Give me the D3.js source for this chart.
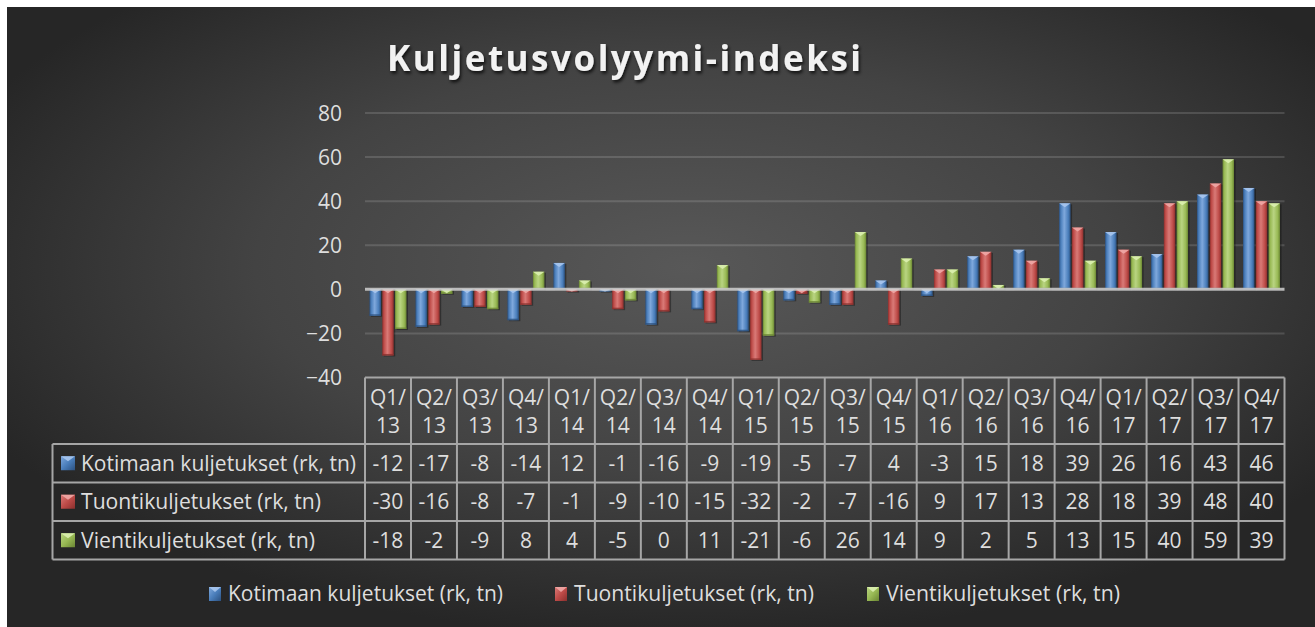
<!DOCTYPE html>
<html><head><meta charset="utf-8">
<script src="https://cdn.jsdelivr.net/npm/d3@7"></script>
<style>html,body{margin:0;padding:0;background:#fff;}svg{display:block;}</style>
</head><body>
<svg id="c" width="1315" height="627"></svg>
<script>
const categories = ["Q1/13","Q2/13","Q3/13","Q4/13","Q1/14","Q2/14","Q3/14","Q4/14","Q1/15","Q2/15","Q3/15","Q4/15","Q1/16","Q2/16","Q3/16","Q4/16","Q1/17","Q2/17","Q3/17","Q4/17"];
const seriesNames = ["Kotimaan kuljetukset (rk, tn)","Tuontikuljetukset (rk, tn)","Vientikuljetukset (rk, tn)"];
const kotimaan = [-12,-17,-8,-14,12,-1,-16,-9,-19,-5,-7,4,-3,15,18,39,26,16,43,46];
const tuonti = [-30,-16,-8,-7,-1,-9,-10,-15,-32,-2,-7,-16,9,17,13,28,18,39,48,40];
const vienti = [-18,-2,-9,8,4,-5,0,11,-21,-6,26,14,9,2,5,13,15,40,59,39];
const yTicks = [-40,-20,0,20,40,60,80];
const title = "Kuljetusvolyymi-indeksi";

const seriesValues = [kotimaan, tuonti, vienti];
const colors = [
  {base:"#4a7ebb", light:"#7fa8dc", dark:"#2c5180", tri:"#a9c6ee"},
  {base:"#be4b48", light:"#d97a77", dark:"#8a2f2d", tri:"#f0a9a6"},
  {base:"#98b954", light:"#b9d482", dark:"#6a8533", tri:"#dcefb0"}
];

const svg = d3.select("#c");
const defs = svg.append("defs");
const FONT = "'Open Sans','Noto Sans',sans-serif";

// background
const bg = defs.append("radialGradient").attr("id","bg").attr("cx","0.52").attr("cy","0.42").attr("r","0.6");
bg.append("stop").attr("offset","0").attr("stop-color","#585858");
bg.append("stop").attr("offset","0.55").attr("stop-color","#434343");
bg.append("stop").attr("offset","1").attr("stop-color","#262626");
svg.append("rect").attr("x",7).attr("y",7).attr("width",1308).attr("height",620).attr("fill","url(#bg)");

colors.forEach((c,i)=>{
  const g = defs.append("linearGradient").attr("id","bar"+i).attr("x1","0").attr("x2","1").attr("y1","0").attr("y2","0");
  g.append("stop").attr("offset","0").attr("stop-color",c.dark);
  g.append("stop").attr("offset","0.15").attr("stop-color",c.base);
  g.append("stop").attr("offset","0.45").attr("stop-color",c.light);
  g.append("stop").attr("offset","0.8").attr("stop-color",c.base);
  g.append("stop").attr("offset","1").attr("stop-color",c.dark);
  const m = defs.append("linearGradient").attr("id","mk"+i).attr("x1","0").attr("x2","1").attr("y1","0").attr("y2","1");
  m.append("stop").attr("offset","0").attr("stop-color",c.light);
  m.append("stop").attr("offset","0.5").attr("stop-color",c.base);
  m.append("stop").attr("offset","1").attr("stop-color",c.dark);
});
const sh = defs.append("filter").attr("id","tshadow").attr("x","-10%").attr("y","-30%").attr("width","120%").attr("height","160%");
sh.append("feDropShadow").attr("dx",1.5).attr("dy",2.5).attr("stdDeviation",1.5).attr("flood-color","#000").attr("flood-opacity",0.7);

// title
svg.append("text").attr("x",624).attr("y",71).attr("text-anchor","middle")
  .attr("font-family",FONT).attr("font-weight","bold").attr("font-size",35)
  .attr("fill","#f2f2f2").attr("textLength",474).attr("lengthAdjust","spacing")
  .attr("filter","url(#tshadow)").text(title);

// scales
const plotL = 365, plotR = 1284.5;
const x0 = d3.scaleBand().domain(categories).range([plotL, plotR]).padding(0);
const x1 = d3.scaleBand().domain(d3.range(3)).range([0, x0.bandwidth()]).paddingInner(0.1).paddingOuter(0.35);
const y = d3.scaleLinear().domain([-40,80]).range([377.5,113]);

// gridlines
svg.append("g").selectAll("line").data(yTicks.filter(t=>t!==0 && t!==-40)).join("line")
  .attr("x1",plotL).attr("x2",plotR).attr("y1",d=>y(d)).attr("y2",d=>y(d))
  .attr("stroke","#ffffff").attr("stroke-opacity",0.14).attr("stroke-width",2);

// y axis labels
const yAxis = d3.axisLeft(y).tickValues(yTicks).tickSize(0).tickPadding(0);
const yg = svg.append("g").attr("transform",`translate(342,0)`).call(yAxis);
yg.select(".domain").remove();
yg.selectAll("text").attr("font-family",FONT).attr("font-size",21).attr("fill","#dedede").attr("dy","0.34em");

// bars
const bars = svg.append("g");
seriesValues.forEach((vals,si)=>{
  const g = bars.append("g");
  vals.forEach((v,ci)=>{
    const bx = x0(categories[ci]) + x1(si);
    const bw = x1.bandwidth();
    const top = Math.min(y(v), y(0)), h = Math.abs(y(v)-y(0));
    if (h < 0.5) return;
    g.append("rect").attr("x",bx+1.5).attr("y",top+1).attr("width",bw).attr("height",h)
      .attr("fill","#000").attr("opacity",0.35);
    g.append("rect").attr("x",bx).attr("y",top).attr("width",bw).attr("height",h).attr("fill",`url(#bar${si})`);
    g.append("rect").attr("x",bx).attr("y",top+h-1.5).attr("width",bw).attr("height",1.5).attr("fill",colors[si].dark).attr("opacity",h>3?0.8:0);
    const td = Math.min(4, h);
    g.append("path").attr("d",`M${bx},${top}L${bx+bw},${top}L${bx+bw/2},${top+td}Z`).attr("fill",colors[si].tri).attr("opacity",0.9);
  });
});

// zero line
svg.append("line").attr("x1",plotL).attr("x2",plotR).attr("y1",y(0)).attr("y2",y(0))
  .attr("stroke","#d0d0d0").attr("stroke-opacity",0.85).attr("stroke-width",3);

// table
const tableStroke = "#a6a6a6";
const hdrTop = 377.5, hdrBot = 444, rowH = 38.5;
const rowY = d3.range(4).map(i=>hdrBot + i*rowH);
const labelL = 52.5;
const tg = svg.append("g");
const colEdges = categories.map(c=>x0(c)).concat([plotR]);
tg.selectAll(".v").data(colEdges).join("line")
  .attr("x1",d=>d).attr("x2",d=>d).attr("y1",hdrTop).attr("y2",rowY[3])
  .attr("stroke",tableStroke).attr("stroke-width",2);
tg.append("line").attr("x1",plotL).attr("x2",plotR).attr("y1",hdrTop).attr("y2",hdrTop).attr("stroke",tableStroke).attr("stroke-width",2);
rowY.forEach(yy=>{
  tg.append("line").attr("x1",labelL).attr("x2",plotR).attr("y1",yy).attr("y2",yy).attr("stroke",tableStroke).attr("stroke-width",2);
});
tg.append("line").attr("x1",labelL).attr("x2",labelL).attr("y1",rowY[0]).attr("y2",rowY[3]).attr("stroke",tableStroke).attr("stroke-width",2);

// header text
categories.forEach(c=>{
  const parts = c.split("/");
  const cx = x0(c) + x0.bandwidth()/2;
  const t = tg.append("text").attr("text-anchor","middle").attr("font-family",FONT).attr("font-size",21).attr("fill","#dedede");
  t.append("tspan").attr("x",cx).attr("y",405).text(parts[0]+"/");
  t.append("tspan").attr("x",cx).attr("y",433).text(parts[1]);
});

function marker(g, mx, my, si, w){
  g.append("rect").attr("x",mx).attr("y",my).attr("width",w).attr("height",14).attr("fill",`url(#mk${si})`);
  g.append("path").attr("d",`M${mx},${my}L${mx+w},${my}L${mx+w/2},${my+5}Z`).attr("fill",colors[si].tri).attr("opacity",0.9);
}

// rows
const labelWidths = [275, 240, 234];
seriesValues.forEach((vals,si)=>{
  const cy = rowY[si] + rowH/2;
  marker(tg, 61, cy-7, si, 14);
  tg.append("text").attr("x",81).attr("y",cy).attr("dy","0.35em").attr("font-family",FONT).attr("font-size",21)
    .attr("fill","#dedede").attr("textLength",labelWidths[si]).attr("lengthAdjust","spacingAndGlyphs").text(seriesNames[si]);
  vals.forEach((v,ci)=>{
    tg.append("text").attr("x",x0(categories[ci])+x0.bandwidth()/2).attr("y",cy).attr("dy","0.35em")
      .attr("text-anchor","middle").attr("font-family",FONT).attr("font-size",21).attr("fill","#dedede").text(v);
  });
});

// legend
const legX = [209, 555, 867];
const lg = svg.append("g");
seriesNames.forEach((n,si)=>{
  marker(lg, legX[si], 587, si, 12);
  lg.append("text").attr("x",legX[si]+19).attr("y",594).attr("dy","0.35em").attr("font-family",FONT).attr("font-size",21)
    .attr("fill","#dedede").attr("textLength",labelWidths[si]).attr("lengthAdjust","spacingAndGlyphs").text(n);
});
</script>
</body></html>
